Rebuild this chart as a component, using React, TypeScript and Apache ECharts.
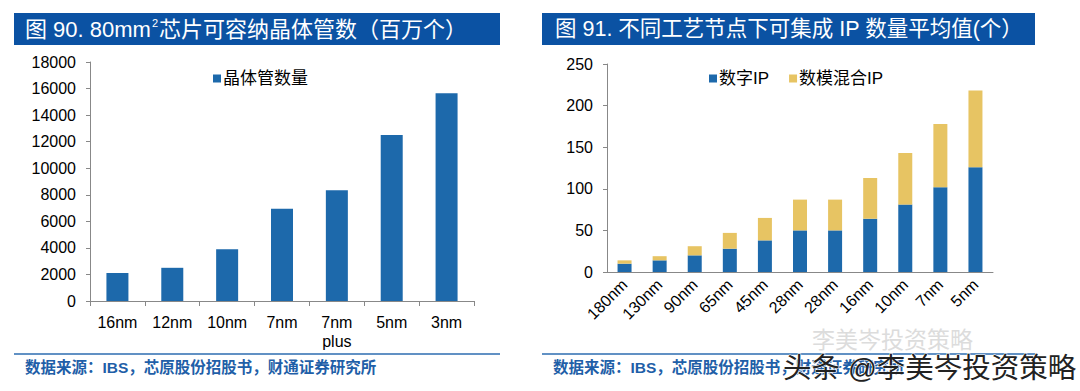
import React, { useEffect, useRef } from "react";
import * as echarts from "echarts";

const leftCategories = ["16nm", "12nm", "10nm", "7nm", "7nm\nplus", "5nm", "3nm"];
const transistorCounts = [2100, 2500, 3900, 6950, 8350, 12500, 15650];
const leftYTicks = { min: 0, max: 18000, interval: 2000 };

const rightCategories = ["180nm", "130nm", "90nm", "65nm", "45nm", "28nm", "28nm", "16nm", "10nm", "7nm", "5nm"];
const digitalIP = [10, 14, 20, 28, 38, 50, 50, 64, 81, 102, 126];
const mixedIP = [4, 5, 11, 19, 27, 37, 37, 49, 62, 76, 92];
const rightYTicks = { min: 0, max: 250, interval: 50 };

const BLUE = "#1d69ab";
const YELLOW = "#e7c463";
const TITLE_BG = "#0b52a3";
const FONT = "'Liberation Sans', Arial, 'Noto Sans CJK SC', sans-serif";

export default function App() {
  const ref = useRef<HTMLDivElement>(null);
  useEffect(() => {
    if (!ref.current) return;
    const chart = echarts.init(ref.current, null, { renderer: "svg" });
    const axisLabel = { color: "#000", fontSize: 16, fontFamily: FONT };
    const legendText = { fontSize: 17, color: "#000", fontFamily: FONT, padding: [0, 0, 0, -3] };
    chart.setOption({
      animation: false,
      textStyle: { fontFamily: FONT },
      legend: [
        {
          left: 208,
          top: 65,
          itemWidth: 8,
          itemHeight: 8,
          itemGap: 20,
          icon: "rect",
          textStyle: legendText,
          data: ["晶体管数量"],
        },
        {
          left: 704,
          top: 65,
          itemWidth: 8,
          itemHeight: 8,
          itemGap: 20,
          icon: "rect",
          textStyle: legendText,
          data: ["数字IP", "数模混合IP"],
        },
      ],
      grid: [
        { left: 90, right: 1080 - 474, top: 62, bottom: 391 - 301 },
        { left: 607, right: 1080 - 993, top: 64, bottom: 391 - 272 },
      ],
      xAxis: [
        {
          type: "category",
          gridIndex: 0,
          data: leftCategories,
          axisLine: { lineStyle: { color: "#888", width: 1 } },
          axisTick: { show: true, alignWithLabel: false, length: 5, lineStyle: { color: "#888" } },
          axisLabel: { ...axisLabel, margin: 12, lineHeight: 19, interval: 0 },
        },
        {
          type: "category",
          gridIndex: 1,
          data: rightCategories,
          axisLine: { lineStyle: { color: "#888", width: 1 } },
          axisTick: { show: false },
          axisLabel: { ...axisLabel, rotate: 45, margin: 10, interval: 0 },
        },
      ],
      yAxis: [
        {
          type: "value",
          gridIndex: 0,
          ...leftYTicks,
          axisLine: { show: true, lineStyle: { color: "#888" } },
          axisTick: { show: true, length: 4, lineStyle: { color: "#888" } },
          splitLine: { show: false },
          axisLabel: { ...axisLabel, margin: 14, formatter: (v: number) => String(v) },
        },
        {
          type: "value",
          gridIndex: 1,
          ...rightYTicks,
          axisLine: { show: true, lineStyle: { color: "#888" } },
          axisTick: { show: true, length: 4, lineStyle: { color: "#888" } },
          splitLine: { show: false },
          axisLabel: { ...axisLabel, margin: 14, formatter: (v: number) => String(v) },
        },
      ],
      series: [
        {
          name: "晶体管数量",
          type: "bar",
          xAxisIndex: 0,
          yAxisIndex: 0,
          data: transistorCounts,
          barWidth: 22,
          itemStyle: { color: BLUE },
        },
        {
          name: "数字IP",
          type: "bar",
          stack: "ip",
          xAxisIndex: 1,
          yAxisIndex: 1,
          data: digitalIP,
          barWidth: 14,
          itemStyle: { color: BLUE },
        },
        {
          name: "数模混合IP",
          type: "bar",
          stack: "ip",
          xAxisIndex: 1,
          yAxisIndex: 1,
          data: mixedIP,
          barWidth: 14,
          itemStyle: { color: YELLOW },
        },
      ],
      graphic: [
        { type: "rect", shape: { x: 14, y: 13, width: 486, height: 32 }, style: { fill: TITLE_BG } },
        {
          type: "text",
          x: 25,
          y: 29,
          style: {
            text: "{a|图 90. 80mm}{s|2}{a|芯片可容纳晶体管数（百万个）}",
            verticalAlign: "middle",
            rich: {
              a: { fill: "#fff", fontSize: 22, fontFamily: FONT },
              s: { fill: "#fff", fontSize: 11, fontFamily: FONT, verticalAlign: "top", padding: [0, 1, 13, 1] },
            },
          },
        },
        { type: "rect", shape: { x: 542, y: 13, width: 493, height: 32 }, style: { fill: TITLE_BG } },
        {
          type: "text",
          x: 555,
          y: 29,
          style: {
            text: "图 91. 不同工艺节点下可集成 IP 数量平均值(个）",
            fill: "#fff",
            fontSize: 21.5,
            fontFamily: FONT,
            verticalAlign: "middle",
          },
        },
        { type: "line", shape: { x1: 14, y1: 354, x2: 500, y2: 354 }, style: { stroke: "#2d6cb0", lineWidth: 1.5 } },
        { type: "line", shape: { x1: 542, y1: 354, x2: 1035, y2: 354 }, style: { stroke: "#2d6cb0", lineWidth: 1.5 } },
        {
          type: "text",
          x: 25,
          y: 367,
          style: { text: "数据来源：IBS，芯原股份招股书，财通证券研究所", fill: "#1f5fa8", fontSize: 15.5, fontWeight: "bold", fontFamily: FONT, verticalAlign: "middle" },
        },
        {
          type: "text",
          x: 553,
          y: 367,
          style: { text: "数据来源：IBS，芯原股份招股书，财通证券研究所", fill: "#1f5fa8", fontSize: 15.5, fontWeight: "bold", fontFamily: FONT, verticalAlign: "middle" },
        },
        {
          type: "text",
          x: 812,
          y: 340,
          style: { text: "李美岑投资策略", fill: "#dcdcdc", fontSize: 23, fontFamily: FONT, verticalAlign: "middle" },
        },
        {
          type: "text",
          x: 783,
          y: 368,
          style: { text: "头条 @李美岑投资策略", fill: "#222", stroke: "#fff", lineWidth: 1, fontSize: 28.5, fontFamily: FONT, verticalAlign: "middle" },
        },
      ],
    });
    return () => chart.dispose();
  }, []);
  return (
    <div style={{ position: "fixed", left: 0, top: 0, width: 1080, height: 391, background: "#fff" }}>
      <div ref={ref} style={{ width: 1080, height: 391 }} />
    </div>
  );
}
